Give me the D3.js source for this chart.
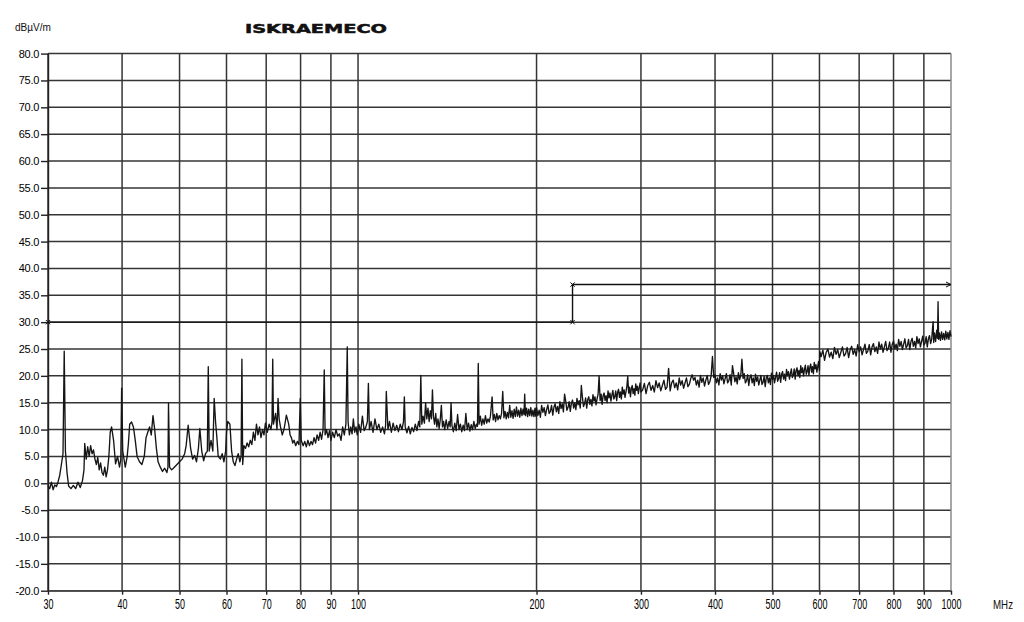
<!DOCTYPE html>
<html>
<head>
<meta charset="utf-8">
<script src="https://d3js.org/d3.v7.min.js"></script>
<style>
  body { margin: 0; background: #fff; }
  svg { display: block; background: #fff; }
  .grid line { stroke: #353535; stroke-width: 1.5; }
  .axis text { font-family: 'Liberation Sans', Arial, sans-serif; fill: #000; }
  .axis line, .axis path { stroke: #222; stroke-width: 1.4; }
  .trace { fill: none; stroke: #151515; stroke-width: 1.35; stroke-linejoin: round; }
  .limit { fill: none; stroke: #111; stroke-width: 1.4; }
</style>
</head>
<body>
<svg id="chart" width="1024" height="622"></svg>
<script>
// axis ticks
var freqTicks = [30, 40, 50, 60, 70, 80, 90, 100, 200, 300, 400, 500, 600, 700, 800, 900, 1000];
var levelTicks = [-20, -15, -10, -5, 0, 5, 10, 15, 20, 25, 30, 35, 40, 45, 50, 55, 60, 65, 70, 75, 80];

// limit line (MHz, dBuV/m)
var limitFreq = [30, 230, 230, 1000];
var limitLevel = [30, 30, 37, 37];

var spectrum = [
  [30.0,-0.5],[30.2,-1.0],[30.4,0.2],[30.6,-1.2],[30.8,-0.3],[31.0,-0.6],[31.2,0.3],[31.4,1.5],[31.6,3.5],[31.8,5.5],
  [31.95,24.6],[32.1,6.0],[32.3,2.0],[32.5,-0.5],[32.8,-1.0],[33.1,-0.4],[33.4,-1.0],[33.7,0.2],[34.0,-0.8],[34.3,0.5],
  [34.5,2.5],[34.6,7.4],[34.8,4.5],[35.0,6.8],[35.2,5.0],[35.4,7.0],[35.6,5.5],[35.8,6.2],[36.0,4.5],[36.2,3.5],
  [36.4,4.8],[36.6,2.5],[36.8,3.8],[37.0,2.0],[37.2,1.5],[37.4,3.0],[37.6,1.2],[37.8,2.5],[38.0,5.0],[38.2,9.5],
  [38.4,10.5],[38.7,8.0],[39.0,3.6],[39.3,5.0],[39.6,3.0],[39.8,4.5],[39.93,17.7],[40.1,6.0],[40.3,4.5],[40.5,3.0],
  [40.8,5.0],[41.0,7.5],[41.2,11.0],[41.5,11.4],[41.8,10.5],[42.1,8.0],[42.4,5.0],[42.8,4.0],[43.2,3.5],[43.6,5.0],
  [43.9,8.5],[44.2,9.5],[44.5,10.5],[44.8,9.0],[45.1,12.6],[45.4,10.0],[45.7,6.5],[46.0,4.0],[46.4,3.0],[46.8,2.2],
  [47.2,2.8],[47.6,2.0],[47.8,3.0],[47.9,14.9],[48.1,3.0],[48.5,2.5],[49.0,3.0],[49.5,3.5],[50.0,4.0],[50.5,4.5],
  [51.0,5.5],[51.3,7.0],[51.7,10.8],[52.2,6.5],[52.6,4.5],[53.0,5.2],[53.4,4.0],[53.8,6.5],[54.1,10.2],[54.5,6.0],
  [54.9,4.2],[55.3,5.5],[55.7,6.0],[55.9,21.7],[56.1,6.0],[56.5,8.0],[56.9,6.0],[57.2,15.8],[57.5,11.5],[57.8,8.5],
  [58.1,5.0],[58.6,4.5],[59.0,5.5],[59.4,4.0],[59.8,6.0],[60.0,9.5],[60.3,11.5],[60.8,11.0],[61.2,6.0],[61.6,4.0],
  [62.0,3.3],[62.4,4.5],[62.8,5.5],[63.2,4.0],[63.5,5.0],[63.7,23.1],[63.9,3.5],[64.2,7.0],[64.6,6.5],[65.0,7.5],
  [65.4,6.8],[65.8,8.0],[66.2,7.2],[66.6,9.5],[67.0,8.0],[67.4,11.0],[67.8,9.0],[68.2,10.5],[68.6,8.5],[69.0,10.0],
  [69.4,9.0],[69.8,11.2],[70.3,9.5],[70.8,11.0],[71.3,10.0],[71.6,11.5],[71.8,23.1],[72.0,11.0],[72.6,13.0],[73.0,10.0],
  [73.3,15.8],[73.6,12.0],[74.0,10.5],[74.5,9.0],[75.0,10.0],[75.4,11.5],[75.7,12.7],[76.0,12.0],[76.4,11.0],[76.8,9.0],
  [77.2,8.5],[77.6,7.5],[78.0,8.0],[78.5,7.0],[79.0,7.8],[79.5,7.2],[79.9,15.8],[80.2,8.0],[80.8,7.0],[81.3,7.8],
  [81.8,6.8],[82.3,8.0],[82.8,7.0],[83.3,7.8],[83.8,7.2],[84.3,8.5],[84.8,7.5],[85.3,9.0],[85.8,8.0],[86.3,9.5],
  [86.8,8.2],[87.3,10.0],[87.7,21.1],[88.0,9.0],[88.5,10.0],[89.0,8.5],[89.5,9.8],[90.0,8.0],[90.6,9.5],[91.2,8.5],
  [91.8,10.0],[92.4,8.8],[93.0,9.2],[93.6,8.0],[94.2,10.5],[94.8,9.0],[95.4,11.0],[95.9,25.4],[96.2,11.5],[96.7,9.0],
  [97.2,10.5],[97.7,9.2],[98.2,12.0],[98.7,9.5],[99.2,10.5],[99.7,9.0],[100.3,11.0],[101.0,9.5],[101.7,12.5],[102.4,9.8],
  [103.1,10.5],[103.7,11.5],[104.1,18.6],[104.5,10.0],[105.2,11.5],[106.0,9.5],[106.8,12.0],[107.6,10.0],[108.4,11.0],[109.2,9.5],
  [110.0,10.5],[110.8,9.2],[111.3,10.8],[111.6,17.1],[112.3,10.0],[113.0,11.5],[113.8,9.5],[114.6,11.2],[115.4,9.8],[116.2,10.8],
  [117.0,9.6],[117.8,11.0],[118.6,10.0],[119.3,11.5],[119.7,16.1],[120.1,10.5],[120.9,9.4],[121.7,10.6],[122.5,9.2],[123.3,10.4],
  [124.1,9.6],[124.9,11.0],[125.7,9.8],[126.5,11.5],[127.1,10.5],[127.6,20.1],[128.1,11.0],[128.7,12.5],[129.4,11.2],[130.0,15.0],
  [130.6,12.0],[131.2,14.0],[131.8,11.5],[132.4,13.5],[133.0,12.0],[133.5,17.4],[134.0,12.5],[134.6,11.0],[135.2,13.0],[135.8,10.5],
  [136.4,12.0],[137.0,10.2],[137.6,11.8],[138.2,14.5],[138.8,10.5],[139.4,11.5],[140.0,10.0],[140.8,11.8],[141.6,10.2],[142.4,11.5],
  [143.0,10.5],[143.5,15.0],[144.0,10.8],[144.8,9.6],[145.6,11.2],[146.4,9.8],[147.2,12.8],[148.0,10.0],[148.8,11.0],[149.6,9.6],
  [150.4,10.8],[151.2,9.8],[152.0,13.0],[152.8,10.0],[153.6,11.2],[154.4,9.7],[155.2,10.9],[156.0,10.0],[156.8,11.5],[157.6,10.2],
  [158.4,11.0],[159.0,10.6],[159.5,22.3],[160.0,11.0],[160.8,12.5],[161.6,10.8],[162.4,12.0],[163.2,11.0],[164.0,12.6],[164.8,11.2],
  [165.6,12.0],[166.4,11.4],[167.2,12.5],[168.3,16.1],[169.0,11.8],[169.8,12.8],[170.6,11.5],[171.4,13.0],[172.2,11.8],[173.0,12.6],
  [173.8,12.0],[174.6,13.0],[175.4,17.1],[176.2,12.2],[177.0,13.4],[177.8,12.0],[178.6,13.2],[179.4,12.2],[180.2,14.5],[181.0,12.3],
  [181.8,13.5],[182.6,12.1],[183.4,13.8],[184.2,12.4],[185.0,14.2],[185.8,12.5],[186.6,13.6],[187.4,12.3],[188.2,14.0],[189.0,12.6],
  [189.8,13.8],[190.5,12.8],[191.0,16.6],[191.6,12.6],[192.4,14.0],[193.2,12.4],[194.0,13.8],[194.8,12.6],[195.6,14.1],[196.4,12.5],
  [197.2,13.6],[198.0,12.4],[198.8,14.0],[199.4,12.5],
  [200,14.1],[201,12.6],[202,13.6],[203,12.3],[204,14.5],[205,13.2],[206,14.1],[207,12.6],[208,13.7],[209,14.6],
  [210,13.0],[211,13.4],[212,14.5],[213,12.7],[214,14.2],[215,14.8],[216,13.3],[217,14.3],[218,13.0],[219,15.2],
  [220,13.9],[221,14.8],[222,13.3],[223,16.6],[224,15.3],[225,13.6],[226,14.1],[227,15.2],[228,13.4],[229,14.9],
  [230,15.5],[231,14.0],[232,14.9],[233,13.7],[234,15.8],[235,14.6],[236,15.4],[237,14.0],[238,18.2],[239,16.0],
  [240,14.3],[241,14.8],[242,15.9],[243,14.0],[244,15.6],[245,16.1],[246,14.7],[247,15.6],[248,14.4],[249,16.5],
  [250,15.3],[251,16.1],[252,14.6],[253,15.7],[254,16.6],[255,20.0],[256,15.4],[257,16.6],[258,14.7],[259,16.3],
  [260,16.8],[261,15.4],[262,16.3],[263,15.0],[264,17.2],[265,15.9],[266,16.8],[267,15.3],[268,16.4],[269,17.3],
  [270,15.7],[271,16.1],[272,17.2],[273,15.4],[274,16.9],[275,17.5],[276,16.0],[277,17.0],[278,15.7],[279,17.9],
  [280,16.6],[281,17.4],[282,16.0],[283,17.0],[284,18.0],[285,19.9],[286,16.8],[287,17.9],[288,16.1],[289,17.6],
  [290,18.2],[291,16.7],[292,17.6],[293,16.4],[294,18.5],[295,17.3],[296,18.1],[297,16.7],[298,17.7],[299,18.7],
  [300,17.0],[302,17.4],[304,18.6],[306,16.7],[308,18.2],[310,18.8],[312,17.3],[314,18.2],[316,17.0],[318,19.1],
  [320,17.8],[322,18.7],[324,17.2],[326,18.2],[328,19.2],[330,17.5],[332,17.9],[334,21.4],[336,17.2],[338,18.7],
  [340,19.2],[342,17.8],[344,18.7],[346,17.4],[348,19.6],[350,18.3],[352,19.1],[354,17.7],[356,18.7],[358,19.6],
  [360,18.0],[362,18.4],[364,19.5],[366,20.2],[368,19.2],[370,19.7],[372,18.3],[374,19.2],[376,17.9],[378,20.1],
  [380,18.8],[382,19.6],[384,18.1],[386,19.2],[388,20.1],[390,18.4],[392,18.9],[394,20.0],[396,23.6],[398,19.7],
  [400,20.2],[402,18.7],[404,19.6],[406,18.3],[408,20.4],[410,19.2],[412,20.0],[414,18.5],[416,19.5],[418,20.4],
  [420,18.7],[422,19.1],[424,20.2],[426,18.3],[428,21.9],[430,20.4],[432,18.9],[434,19.8],[436,18.5],[438,20.6],
  [440,19.3],[442,20.0],[444,23.1],[446,19.5],[448,20.4],[450,18.7],[452,19.1],[454,20.2],[456,18.2],[458,19.7],
  [460,20.2],[462,18.7],[464,19.6],[466,18.2],[468,20.3],[470,19.0],[472,19.8],[474,18.3],[476,19.2],[478,20.1],
  [480,18.4],[482,18.8],[484,19.9],[486,18.0],[488,19.6],[490,20.1],[492,18.7],[494,19.6],[496,18.4],[498,20.5],
  [500,19.3],[502,20.1],[504,18.7],[506,19.7],[508,20.7],[510,19.0],[512,19.5],[514,20.6],[516,18.8],[518,20.3],
  [520,20.8],[522,19.4],[524,20.3],[526,19.1],[528,21.2],[530,20.0],[532,20.8],[534,19.4],[536,20.4],[538,21.3],
  [540,19.7],[542,20.1],[544,21.3],[546,19.4],[548,21.0],[550,21.5],[552,20.0],[554,21.0],[556,19.7],[558,21.9],
  [560,20.6],[562,21.5],[564,20.0],[566,21.1],[568,22.0],[570,20.3],[572,20.8],[574,21.9],[576,20.1],[578,21.6],
  [580,22.2],[582,20.7],[584,21.7],[586,20.4],[588,22.5],[590,21.3],[592,22.1],[594,20.7],[596,21.7],[598,22.7],
  [600,21.0],[601,24.5],[604,23.6],[608,24.8],[612,22.9],[616,24.4],[620,25.0],[624,23.5],[628,24.4],[632,23.2],
  [636,25.3],[640,24.0],[644,24.9],[648,23.4],[652,24.4],[656,25.4],[660,23.7],[664,24.1],[668,25.3],[672,23.4],
  [676,24.9],[680,25.5],[684,24.0],[688,24.9],[692,23.7],[696,25.8],[700,24.5],[704,25.4],[708,23.9],[712,24.9],
  [716,25.9],[720,24.2],[724,24.6],[728,25.8],[732,23.9],[736,25.4],[740,26.0],[744,24.5],[748,25.4],[752,24.2],
  [756,26.3],[760,25.0],[764,25.9],[768,24.4],[772,25.4],[776,26.4],[780,24.7],[784,25.1],[788,26.3],[792,24.4],
  [796,25.9],[800,26.5],[804,25.0],[808,25.9],[812,24.7],[816,26.8],[820,25.5],[824,26.4],[828,24.9],[832,25.9],
  [836,26.9],[840,25.2],[844,25.6],[848,26.8],[852,24.9],[856,26.4],[860,27.0],[864,25.5],[868,26.4],[872,25.2],
  [876,27.3],[880,26.0],[884,26.9],[888,25.4],[892,26.4],[896,27.4],[900,25.7],[904,26.1],[908,27.3],[912,25.4],
  [916,26.9],[920,27.5],[924,26.0],[928,26.9],[931,29.0],[933,30.1],[935,26.2],[938,28.0],[942,26.4],[946,28.5],
  [949,27.0],[951,33.8],[953,26.8],[956,28.0],[960,26.6],[964,28.2],[968,26.8],[972,27.9],[976,26.7],[980,28.3],
  [984,26.9],[988,28.1],[992,26.8],[996,28.4],[1000,27.3]
];

var svg = d3.select("#chart");

var x = d3.scaleLog().domain([30, 1000]).range([48, 951]);
var y = d3.scaleLinear().domain([-20, 80]).range([590.7, 53.6]);

// grid
var grid = svg.append("g").attr("class", "grid");
grid.selectAll(".h").data(levelTicks).enter().append("line")
    .attr("x1", x(30)).attr("x2", x(1000))
    .attr("y1", function(d) { return y(d); })
    .attr("y2", function(d) { return y(d); });
grid.selectAll(".v").data(freqTicks).enter().append("line")
    .attr("x1", function(d) { return x(d); })
    .attr("x2", function(d) { return x(d); })
    .attr("y1", y(80)).attr("y2", y(-20))
    .style("stroke", function(d) { return d == 1000 ? "#8a8a8a" : null; });

// y axis
var yAxis = svg.append("g")
    .attr("class", "axis")
    .attr("transform", "translate(48,0)")
    .call(d3.axisLeft(y).tickValues(levelTicks).tickSize(7).tickSizeOuter(0).tickPadding(2)
      .tickFormat(function(d) { return d.toFixed(1); }));
yAxis.selectAll("text").style("font-size", "11px").style("letter-spacing", "-0.3px");

// x axis
var xAxis = svg.append("g")
    .attr("class", "axis")
    .attr("transform", "translate(0," + y(-20) + ")")
    .call(d3.axisBottom(x).tickValues(freqTicks).tickSize(4).tickSizeOuter(0).tickPadding(4)
      .tickFormat(function(d) { return d; }));
xAxis.select(".domain").style("stroke", "#555");
xAxis.selectAll("text")
    .style("font-size", "14px")
    .attr("textLength", function(d) { return String(d).length * 5; })
    .attr("lengthAdjust", "spacingAndGlyphs");

// limit line
var limitData = limitFreq.map(function(f, i) { return [f, limitLevel[i]]; });
var line = d3.line().x(function(d) { return x(d[0]); }).y(function(d) { return y(d[1]); });
svg.append("path").attr("class", "limit").attr("d", line(limitData));
svg.selectAll(".mark").data(limitData.slice(0, 3)).enter().append("path")
    .attr("transform", function(d) { return "translate(" + x(d[0]) + "," + y(d[1]) + ")"; })
    .attr("d", d3.symbol(d3.symbolX, 14))
    .attr("stroke", "#111").attr("stroke-width", 1).attr("fill", "none");
svg.append("path")
    .attr("d", "M" + (x(1000) - 5) + "," + (y(37) - 2.5) + "L" + x(1000) + "," + y(37) + "L" + (x(1000) - 5) + "," + (y(37) + 2.5))
    .attr("stroke", "#111").attr("fill", "none").attr("stroke-width", 1);

// spectrum
svg.append("path").attr("class", "trace").attr("d", line(spectrum));

// labels
svg.append("text") // unit
    .text("dBµV/m")
    .attr("x", 15).attr("y", 31)
    .attr("textLength", 36).attr("lengthAdjust", "spacingAndGlyphs")
    .style("font-family", "'Liberation Sans', Arial, sans-serif")
    .style("font-size", "10px").style("fill", "#111");

svg.append("text") // title
    .text("ISKRAEMECO")
    .attr("x", 245).attr("y", 33)
    .attr("textLength", 142).attr("lengthAdjust", "spacingAndGlyphs")
    .style("font-family", "'DejaVu Sans', sans-serif")
    .style("font-weight", "bold")
    .style("font-size", "12.5px")
    .style("fill", "#111").style("stroke", "#111").style("stroke-width", "0.5px");

svg.append("text") // freq unit
    .text("MHz")
    .attr("x", 993).attr("y", 609)
    .attr("textLength", 20).attr("lengthAdjust", "spacingAndGlyphs")
    .style("font-family", "'Liberation Sans', Arial, sans-serif")
    .style("font-size", "13px").style("fill", "#111");
</script>
</body>
</html>
